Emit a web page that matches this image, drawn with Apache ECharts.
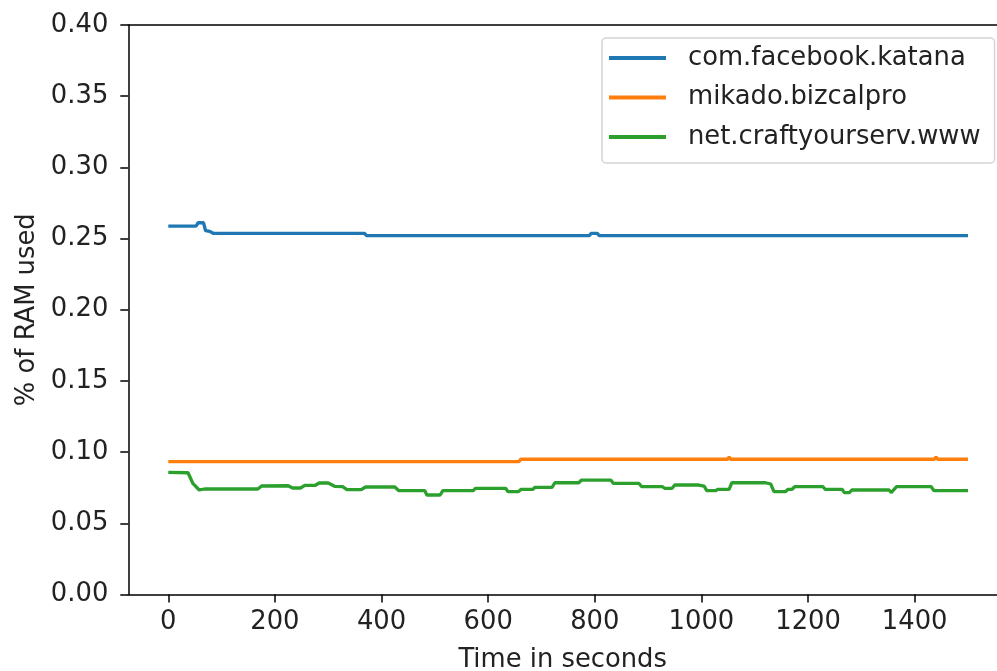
<!DOCTYPE html>
<html>
<head>
<meta charset="utf-8">
<script src="https://cdn.jsdelivr.net/npm/echarts@6/dist/echarts.min.js"></script>
<style>
  html, body { margin: 0; padding: 0; background: #ffffff; overflow: hidden; }
  #chart { width: 997px; height: 671px; }
</style>
</head>
<body>
<div id="chart"></div>
<script>
// Per-app RAM usage over time (fraction of RAM, percent units)
const katanaTime = [0, 52, 56, 66, 70, 78, 84, 368, 372, 790, 793, 805, 808, 1500];
const katanaRam  = [0.2588, 0.2588, 0.2611, 0.2611, 0.2555, 0.2550, 0.2537, 0.2537, 0.2520, 0.2520, 0.2537, 0.2537, 0.2520, 0.2520];

const bizcalTime = [0, 658, 661, 1049, 1052, 1055, 1437, 1440, 1443, 1500];
const bizcalRam  = [0.0933, 0.0933, 0.0950, 0.0950, 0.0965, 0.0950, 0.0950, 0.0965, 0.0950, 0.0950];

const craftTime = [0, 37, 46, 58, 68, 168, 175, 225, 233, 248, 256, 275, 283, 300, 312, 327, 335, 362, 370, 425,
  432, 481, 485, 510, 515, 572, 576, 633, 637, 657, 662, 684, 688, 720, 725, 770, 775, 830, 835, 883,
  888, 927, 931, 945, 950, 995, 1005, 1010, 1027, 1031, 1052, 1057, 1120, 1130, 1136, 1158, 1162, 1170, 1175, 1228,
  1232, 1264, 1268, 1278, 1282, 1352, 1356, 1358, 1366, 1431, 1436, 1500];
const craftRam = [0.0858, 0.0855, 0.0781, 0.0734, 0.0741, 0.0741, 0.0762, 0.0764, 0.0748, 0.0748, 0.0766, 0.0766, 0.0783, 0.0783, 0.0760, 0.0757, 0.0737, 0.0737, 0.0755, 0.0755,
  0.0730, 0.0730, 0.0699, 0.0699, 0.0730, 0.0730, 0.0746, 0.0746, 0.0723, 0.0723, 0.0739, 0.0739, 0.0753, 0.0753, 0.0785, 0.0785, 0.0804, 0.0804, 0.0780, 0.0780,
  0.0757, 0.0757, 0.0746, 0.0746, 0.0769, 0.0769, 0.0762, 0.0730, 0.0730, 0.0739, 0.0739, 0.0785, 0.0785, 0.0776, 0.0723, 0.0723, 0.0739, 0.0739, 0.0757, 0.0757,
  0.0739, 0.0739, 0.0716, 0.0716, 0.0734, 0.0734, 0.0716, 0.0716, 0.0757, 0.0757, 0.0730, 0.0730];

const seriesNames = ['com.facebook.katana', 'mikado.bizcalpro', 'net.craftyourserv.www'];
const seriesColors = ['#1f77b4', '#ff7f0e', '#2ca02c'];

const xTicks = [0, 200, 400, 600, 800, 1000, 1200, 1400];

const pair = (xs, ys) => xs.map((x, i) => [x, ys[i]]);
const seriesData = [pair(katanaTime, katanaRam), pair(bizcalTime, bizcalRam), pair(craftTime, craftRam)];

const FONT = 'DejaVu Sans';
const FS = 25.8;
const TEXT = '#222222';
const AXIS = { color: '#000000', width: 1.5 };

// The plot frame runs past the right edge of the canvas; the visible x span ends near 1554 s.
const X_MIN = -75;
const X_MAX = 1554.4;

const chart = echarts.init(document.getElementById('chart'), null, { renderer: 'canvas' });
chart.setOption({
  animation: false,
  backgroundColor: '#ffffff',
  textStyle: { fontFamily: FONT },
  grid: { left: 128.3, top: 25, right: 0, bottom: 76.5, show: false, outerBoundsMode: 'none' },
  legend: {
    orient: 'vertical',
    left: 602, top: 38,
    padding: [6, 14, 12, 7],
    itemWidth: 57, itemHeight: 4, itemGap: 11.5,
    icon: 'rect',
    backgroundColor: '#ffffff',
    borderColor: '#d4d4d4', borderWidth: 1.5, borderRadius: 4,
    textStyle: { fontFamily: FONT, fontSize: FS, color: TEXT, lineHeight: 28, padding: [0, 0, 0, 17] },
    data: seriesNames
  },
  xAxis: [{
    type: 'value', min: X_MIN, max: X_MAX,
    name: 'Time in seconds', nameLocation: 'middle', nameGap: 53,
    nameTextStyle: { fontFamily: FONT, fontSize: FS, color: TEXT },
    axisLine: { show: true, onZero: false, lineStyle: AXIS },
    axisTick: { show: true, length: 8, customValues: xTicks, lineStyle: AXIS },
    axisLabel: { customValues: xTicks, fontFamily: FONT, fontSize: FS, color: TEXT, margin: 15, formatter: v => String(v) },
    splitLine: { show: false }
  }, {
    // top frame line
    type: 'value', position: 'top', min: X_MIN, max: X_MAX,
    axisLine: { show: true, onZero: false, lineStyle: AXIS },
    axisTick: { show: false }, axisLabel: { show: false }, splitLine: { show: false }
  }],
  yAxis: {
    type: 'value', min: 0, max: 0.4, interval: 0.05,
    name: '% of RAM used', nameLocation: 'middle', nameGap: 88, nameRotate: 90,
    nameTextStyle: { fontFamily: FONT, fontSize: FS, color: TEXT },
    axisLine: { show: true, onZero: false, lineStyle: AXIS },
    axisTick: { show: true, length: 8, lineStyle: AXIS },
    axisLabel: { fontFamily: FONT, fontSize: FS, color: TEXT, margin: 20, formatter: v => v.toFixed(2) },
    splitLine: { show: false }
  },
  series: seriesNames.map((name, i) => ({
    name: name,
    type: 'line',
    data: seriesData[i],
    showSymbol: false,
    symbol: 'none',
    color: seriesColors[i],
    lineStyle: { color: seriesColors[i], width: 3.3 },
    z: 2 + i
  }))
});
</script>
</body>
</html>
